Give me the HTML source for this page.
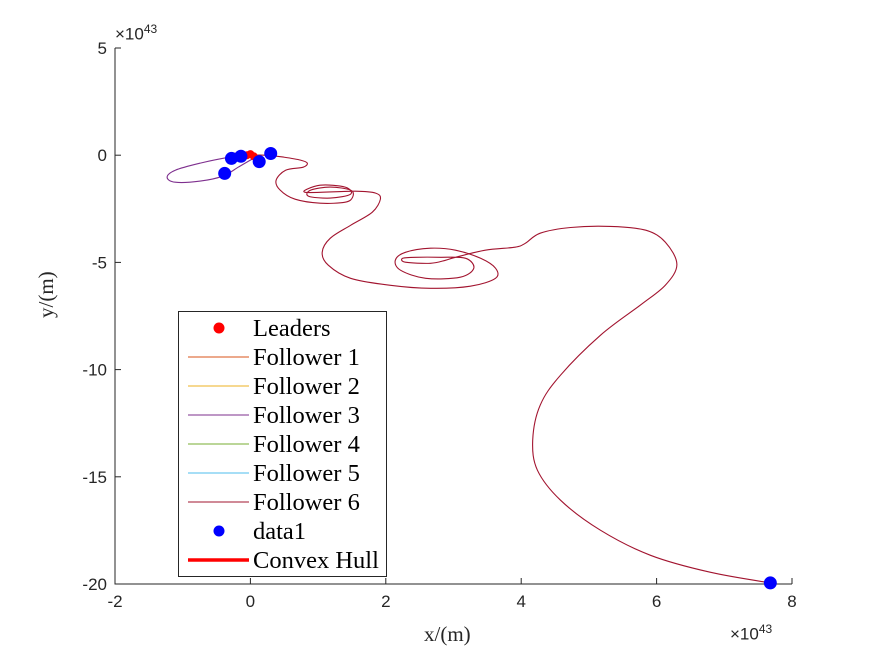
<!DOCTYPE html>
<html><head><meta charset="utf-8"><style>
body{margin:0;background:#fff;}
#chart{display:block;font-family:"Liberation Sans",sans-serif;}
</style></head><body>
<svg id="chart" width="875" height="656"></svg>
<script>
// axis ticks (units of 1e43)
const xTicks=[-2,0,2,4,6,8];
const yTicks=[5,0,-5,-10,-15,-20];
// Follower 6 trajectory (x, y in 1e43 m)
const f6x=[0,0.22,0.49,0.74,0.84,0.78,0.52,0.38,0.44,0.66,1.03,1.40,1.51,1.48,1.18,0.89,0.86,1.18,1.48,1.40,1.03,0.81,1.55,1.85,1.92,1.80,1.48,1.18,1.06,1.15,1.48,2.07,2.66,3.25,3.62,3.62,3.40,3.03,2.66,2.29,2.14,2.22,2.59,3.10,3.30,3.18,2.81,2.44,2.25,2.29,2.66,2.88,3.03,3.47,3.91,4.06,4.28,4.73,5.32,5.84,6.13,6.30,6.13,5.76,5.17,4.58,4.28,4.17,4.24,4.58,5.17,5.91,6.79,7.70];
const f6y=[0,0,-0.09,-0.23,-0.37,-0.56,-0.70,-1.17,-1.63,-2.05,-2.24,-2.19,-1.96,-1.63,-1.49,-1.63,-1.91,-2.00,-1.82,-1.49,-1.40,-1.73,-1.68,-1.77,-2.05,-2.66,-3.27,-3.87,-4.53,-5.13,-5.74,-6.07,-6.21,-6.11,-5.74,-5.27,-4.81,-4.43,-4.34,-4.53,-4.90,-5.37,-5.74,-5.69,-5.27,-4.81,-4.76,-4.76,-4.81,-4.99,-5.04,-4.90,-4.76,-4.43,-4.29,-4.11,-3.64,-3.37,-3.32,-3.50,-4.06,-5.10,-6.06,-6.99,-8.40,-10.26,-11.66,-13.29,-14.69,-16.09,-17.49,-18.66,-19.45,-19.96];
// Follower 3 trajectory
const f3x=[0,-0.30,-0.74,-1.11,-1.23,-1.11,-0.74,-0.41,-0.18,0,0.12,0,-0.3,-0.2,0];
const f3y=[0,-0.09,-0.37,-0.70,-1.03,-1.26,-1.21,-0.98,-0.56,-0.23,-0.05,0.05,0.1,-0.05,0];
// data1 points
const dx=[-0.38,-0.28,-0.14,0.13,0.30,7.68];
const dy=[-0.85,-0.15,-0.05,-0.30,0.08,-19.95];
// leader points
const lx=[-0.05,0,0.05];
const ly=[0,0.05,-0.05];

const NS="http://www.w3.org/2000/svg";
const svg=document.getElementById('chart');
const X0=115,X1=792,Y0=48,Y1=584;
function sx(v){return X0+(v-(-2))/(10)*(X1-X0);}
function sy(v){return Y0+(5-v)/25*(Y1-Y0);}
function mk(t,a,p){const e=document.createElementNS(NS,t);for(const k in a)e.setAttribute(k,a[k]);(p||svg).appendChild(e);return e;}

let ax=mk('path',{d:`M${X0},${Y0}V${Y1}H${X1}`,fill:'none',stroke:'#262626','stroke-width':1});


xTicks.forEach(t=>{
  const x=sx(t);
  let l=mk('line',{x1:x,x2:x,y1:Y1,y2:Y1-6,stroke:'#262626'});
  
  
  let tx=mk('text',{x:x,y:Y1+23,'text-anchor':'middle','font-size':17,fill:'#262626'});tx.textContent=t;
  
  
});
yTicks.forEach(t=>{
  const y=sy(t);
  let l=mk('line',{x1:X0,x2:X0+6,y1:y,y2:y,stroke:'#262626'});
  
  
  let tx=mk('text',{x:X0-8,y:y+6,'text-anchor':'end','font-size':17,fill:'#262626'});tx.textContent=t;
  
  
});
function pl(xs,ys,col,name){
  const P=xs.map((v,i)=>[sx(v),sy(ys[i])]);
  let d='M'+P[0][0].toFixed(1)+','+P[0][1].toFixed(1);
  for(let i=0;i<P.length-1;i++){
    const p0=P[Math.max(0,i-1)],p1=P[i],p2=P[i+1],p3=P[Math.min(P.length-1,i+2)];
    const c1=[p1[0]+(p2[0]-p0[0])/6,p1[1]+(p2[1]-p0[1])/6];
    const c2=[p2[0]-(p3[0]-p1[0])/6,p2[1]-(p3[1]-p1[1])/6];
    d+=`C${c1[0].toFixed(1)},${c1[1].toFixed(1)} ${c2[0].toFixed(1)},${c2[1].toFixed(1)} ${p2[0].toFixed(1)},${p2[1].toFixed(1)}`;
  }
  let p=mk('path',{d:d,fill:'none',stroke:col,'stroke-width':1.1,'stroke-linejoin':'round'});
  
  
}
pl(f3x,f3y,'#7E2F8E','follower-3-line');
pl(f6x,f6y,'#A2142F','follower-6-line');
lx.forEach((v,i)=>{let c=mk('circle',{cx:sx(v),cy:sy(ly[i]),r:4,fill:'#ff0000'});
  
  });
dx.forEach((v,i)=>{let c=mk('circle',{cx:sx(v),cy:sy(dy[i]),r:6.5,fill:'#0000ff'});
  
  });
</script>
<div style="position:absolute;left:115px;top:22px;font:17px 'Liberation Sans',sans-serif;color:#262626">×10<sup style="font-size:12px">43</sup></div>
<div style="position:absolute;left:730px;top:622px;font:17px 'Liberation Sans',sans-serif;color:#262626">×10<sup style="font-size:12px">43</sup></div>
<div style="position:absolute;left:424px;top:622px;font:21px 'Liberation Serif',serif;color:#262626">x/(m)</div>
<div style="position:absolute;left:34px;top:318px;font:21px 'Liberation Serif',serif;color:#262626;transform:rotate(-90deg);transform-origin:left top;white-space:nowrap;">y/(m)</div>
<svg style="position:absolute;left:178px;top:311px;font-family:'Liberation Serif',serif;font-size:24.5px" width="210" height="267">
<rect x="0.5" y="0.5" width="208" height="265" fill="#fff" stroke="#262626"/>
<g><circle cx="41" cy="17" r="5.5" fill="#f00"/><text x="75" y="25">Leaders</text></g>
<g><line x1="10" x2="71" y1="46" y2="46" stroke="#D95319"/><text x="75" y="54">Follower 1</text></g>
<g><line x1="10" x2="71" y1="75" y2="75" stroke="#EDB120"/><text x="75" y="83">Follower 2</text></g>
<g><line x1="10" x2="71" y1="104" y2="104" stroke="#7E2F8E"/><text x="75" y="112">Follower 3</text></g>
<g><line x1="10" x2="71" y1="133" y2="133" stroke="#77AC30"/><text x="75" y="141">Follower 4</text></g>
<g><line x1="10" x2="71" y1="162" y2="162" stroke="#4DBEEE"/><text x="75" y="170">Follower 5</text></g>
<g><line x1="10" x2="71" y1="191" y2="191" stroke="#A2142F"/><text x="75" y="199">Follower 6</text></g>
<g><circle cx="41" cy="220" r="5.5" fill="#00f"/><text x="75" y="228">data1</text></g>
<g><line x1="10" x2="71" y1="249" y2="249" stroke="#f00" stroke-width="3.5"/><text x="75" y="257">Convex Hull</text></g>
</svg>
</body></html>
